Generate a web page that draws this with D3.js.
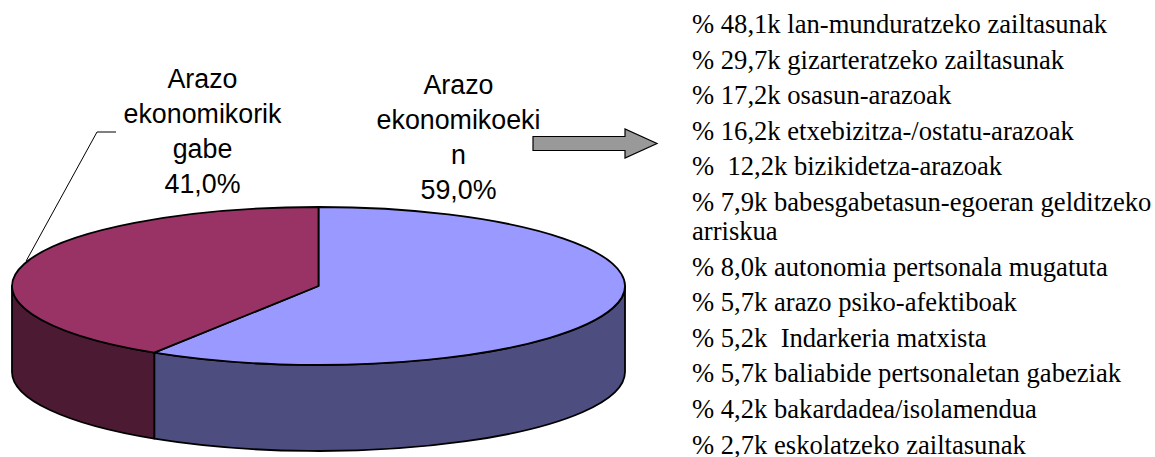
<!DOCTYPE html>
<html lang="eu">
<head>
  <meta charset="UTF-8">
  <title>Arazo ekonomikoak</title>
  <script src="https://d3js.org/d3.v7.min.js"></script>
  <style>
    body {
      margin: 0;
      background: #fff;
    }
    .lbl {
      font-family: "Liberation Sans", Arial, sans-serif;
      font-size: 26.8px;
      fill: #000;
    }
    .item {
      font-family: "Liberation Serif", "Times New Roman", serif;
      font-size: 26.6px;
      fill: #000;
      white-space: pre;
    }
  </style>
</head>
<body>
  <div id="chart"></div>

  <script>
    // pie slices (blue first, clockwise from 12 o'clock)
    const sliceValues = [59.0, 41.0];
    const sliceLines = [
      ["Arazo", "ekonomikoeki", "n"],
      ["Arazo", "ekonomikorik", "gabe"]
    ];
    const topColors = ["#9999ff", "#993366"];
    const sideColors = ["#4d4d80", "#4d1a33"];

    // list on the right
    const listLines = [
      "% 48,1k lan-munduratzeko zailtasunak",
      "% 29,7k gizarteratzeko zailtasunak",
      "% 17,2k osasun-arazoak",
      "% 16,2k etxebizitza-/ostatu-arazoak",
      "%  12,2k bizikidetza-arazoak",
      "% 7,9k babesgabetasun-egoeran gelditzeko arriskua",
      "% 8,0k autonomia pertsonala mugatuta",
      "% 5,7k arazo psiko-afektiboak",
      "% 5,2k  Indarkeria matxista",
      "% 5,7k baliabide pertsonaletan gabeziak",
      "% 4,2k bakardadea/isolamendua",
      "% 2,7k eskolatzeko zailtasunak"
    ];

    const W = 1155, H = 457;
    const cx = 318.5, cy = 286, rx = 306.5, ry = 79, depth = 86;

    const svg = d3.select("#chart")
                  .append("svg")
                  .attr("width", W)
                  .attr("height", H);

    const pie = d3.pie().sort(null).startAngle(0).endAngle(2 * Math.PI);
    const arcs = pie(sliceValues);

    // angle measured clockwise from top
    const pt = (a, dy = 0) => [cx + rx * Math.sin(a), cy - ry * Math.cos(a) + dy];

    const topPath = d => {
      const p0 = pt(d.startAngle), p1 = pt(d.endAngle);
      const large = (d.endAngle - d.startAngle) > Math.PI ? 1 : 0;
      return `M${cx},${cy}L${p0}A${rx},${ry} 0 ${large} 1 ${p1}Z`;
    };

    const sidePath = d => {
      const s = Math.max(d.startAngle, Math.PI / 2);
      const e = Math.min(d.endAngle, 3 * Math.PI / 2);
      if (e <= s) return null;
      const a = pt(s), b = pt(e), c = pt(e, depth), f = pt(s, depth);
      return `M${a}A${rx},${ry} 0 0 1 ${b}L${c}A${rx},${ry} 0 0 0 ${f}Z`;
    };

    // side walls
    svg.append("g")
       .selectAll("path")
       .data(arcs.filter(d => sidePath(d)))
       .enter()
       .append("path")
       .attr("d", sidePath)
       .attr("fill", d => sideColors[d.index])
       .attr("stroke", "#000")
       .attr("stroke-width", 1.8)
       .attr("stroke-linejoin", "round");

    // top faces
    svg.append("g")
       .selectAll("path")
       .data(arcs)
       .enter()
       .append("path")
       .attr("d", topPath)
       .attr("fill", d => topColors[d.index])
       .attr("stroke", "#000")
       .attr("stroke-width", 1.8)
       .attr("stroke-linejoin", "round");

    // labels
    const pctFmt = v => d3.format(".1f")(v).replace(".", ",") + "%";
    const labelPos = [{x: 458.5, y: 94.3}, {x: 202.5, y: 88.3}];
    const lineStep = 35;

    arcs.forEach(d => {
      const lines = sliceLines[d.index].concat([pctFmt(d.data)]);
      const t = svg.append("text")
                   .attr("class", "lbl")
                   .attr("text-anchor", "middle");
      lines.forEach((s, i) => {
        t.append("tspan")
         .attr("x", labelPos[d.index].x)
         .attr("y", labelPos[d.index].y + i * lineStep)
         .text(s);
      });
    });

    // leader line for the maroon slice
    const maroon = arcs[1];
    const mid = (maroon.startAngle + maroon.endAngle) / 2;
    const edge = pt(mid);
    svg.append("polyline")
       .attr("points", `116,132 97,132 ${edge[0] + 2},${edge[1] - 3}`)
       .attr("fill", "none")
       .attr("stroke", "#000")
       .attr("stroke-width", 1);

    // arrow
    const ax0 = 533, ax1 = 625, tip = 657, ay = 143.5, bh = 7, hh = 14.5;
    svg.append("polygon")
       .attr("points", [
         [ax0, ay - bh], [ax1, ay - bh], [ax1, ay - hh], [tip, ay],
         [ax1, ay + hh], [ax1, ay + bh], [ax0, ay + bh]
       ].join(" "))
       .attr("fill", "#999999")
       .attr("stroke", "#000")
       .attr("stroke-width", 1.2)
       .attr("stroke-linejoin", "miter");

    // list with simple word wrapping
    const listX = 692, maxW = 466, itemStep = 35.6, wrapStep = 29;
    let y = 33;
    listLines.forEach(s => {
      const t = svg.append("text").attr("class", "item").attr("x", listX).attr("y", y).text(s);
      if (t.node().getComputedTextLength() > maxW) {
        const words = s.split(" ");
        let line = "";
        const out = [];
        words.forEach(w => {
          const test = line ? line + " " + w : w;
          t.text(test);
          if (t.node().getComputedTextLength() > maxW && line) {
            out.push(line);
            line = w;
          } else {
            line = test;
          }
        });
        out.push(line);
        t.text(null);
        out.forEach((l, i) => {
          t.append("tspan").attr("x", listX).attr("y", y + i * wrapStep).text(l);
        });
        y += (out.length - 1) * wrapStep;
      }
      y += itemStep;
    });
  </script>
</body>
</html>
